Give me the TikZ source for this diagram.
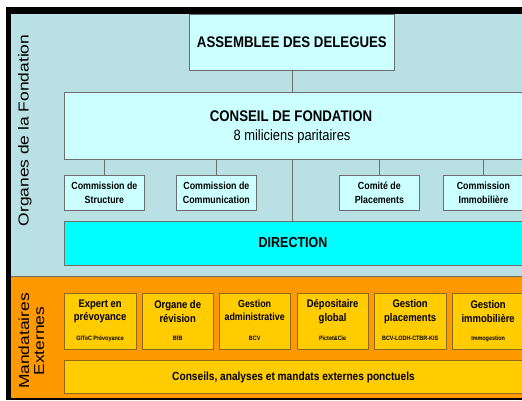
\documentclass[tikz,border=0pt]{standalone}
\usepackage{fontspec}
\setmainfont{Liberation Sans}
\newfontfamily\nrw[FakeStretch=0.86]{Liberation Sans}
\newfontfamily\wde[FakeStretch=1.2]{Liberation Sans}
\definecolor{bgblue}{HTML}{B9E0E3}
\definecolor{lcyan}{HTML}{CCFFFF}
\definecolor{dircyan}{HTML}{00FFFF}
\definecolor{orng}{HTML}{FF9900}
\definecolor{yel}{HTML}{FFCC00}
\definecolor{boxgray}{HTML}{6E6E6E}
\definecolor{ybrown}{HTML}{8B6B1A}
\begin{document}
\begin{tikzpicture}[x=1pt,y=-1pt,
  cbox/.style={draw=boxgray,fill=lcyan,line width=0.8pt,inner sep=0pt,anchor=north west},
  ybox/.style={draw=ybrown,fill=yel,line width=0.8pt,inner sep=0pt,anchor=north west},
  conn/.style={draw=boxgray,line width=0.8pt},
  bigtxt/.style={font=\nrw\bfseries\fontsize{15.4}{18}\selectfont},
  comtxt/.style={font=\nrw\bfseries\fontsize{10.3}{14.5}\selectfont,align=center},
  ttl/.style={font=\nrw\bfseries\fontsize{11}{13.3}\selectfont,align=center},
  sml/.style={font=\nrw\bfseries\fontsize{6.3}{7}\selectfont},
  side/.style={font=\wde\fontsize{14.5}{15}\selectfont,rotate=90,align=center}]
\useasboundingbox (0,0) rectangle (522,400);
\clip (0,0) rectangle (522,400);
% frame and zones
\fill[black] (6,7) rectangle (540,400);
\fill[bgblue] (11,14) rectangle (540,276.5);
\fill[orng] (11,277) rectangle (540,398);
\draw[boxgray,line width=0.8pt] (11,276.5) -- (540,276.5);
% side labels
\node[side] (org) at (25,130.5) {Organes de la Fondation};
\node[side] (mand) at (31.5,341) {Mandataires\\Externes};
% top boxes
\node[cbox,minimum width=205pt,minimum height=56pt,bigtxt] (ass) at (189,14) {ASSEMBLEE DES DELEGUES};
\node[cbox,minimum width=480pt,minimum height=67pt] (cf) at (63.5,92) {};
\node[bigtxt] (cft) at (291,116) {CONSEIL DE FONDATION};
\node[font=\nrw\fontsize{15}{18}\selectfont] (cfs) at (292,137) {8 miliciens paritaires};
\node[cbox,minimum width=80pt,minimum height=35pt,comtxt] (c1) at (64,175) {Commission de\\Structure};
\node[cbox,minimum width=80pt,minimum height=35pt,comtxt] (c2) at (176,175) {Commission de\\Communication};
\node[cbox,minimum width=80pt,minimum height=35pt,comtxt] (c3) at (339,175) {Comité de\\Placements};
\node[cbox,minimum width=80pt,minimum height=35pt,comtxt] (c4) at (443,175) {Commission\\Immobilière};
\node[cbox,fill=dircyan,minimum width=480pt,minimum height=44pt] (dir) at (64,221) {};
\node[font=\nrw\bfseries\fontsize{14.5}{18}\selectfont] (dirt) at (293,243) {DIRECTION};
% connectors
\draw[conn] (ass.south) -- (ass.south |- cf.north);
\draw[conn] (ass.south |- cf.south) -- (ass.south |- dir.north);
\draw[conn] (c1.north) -- (c1.north |- cf.south);
\draw[conn] (c2.north) -- (c2.north |- cf.south);
\draw[conn] (c3.north) -- (c3.north |- cf.south);
\draw[conn] (c4.north) -- (c4.north |- cf.south);
% external boxes
\node[ybox,minimum width=71.5pt,minimum height=56pt] (e1) at (64,293) {};
\node[ybox,minimum width=71.5pt,minimum height=56pt] (e2) at (141.5,293) {};
\node[ybox,minimum width=71.5pt,minimum height=56pt] (e3) at (218.5,293) {};
\node[ybox,minimum width=71.5pt,minimum height=56pt] (e4) at (296.5,293) {};
\node[ybox,minimum width=71.5pt,minimum height=56pt] (e5) at (374,293) {};
\node[ybox,minimum width=71.5pt,minimum height=56pt] (e6) at (452,293) {};
\node[ttl] (e1t) at (e1.center |- 0,311.5) {Expert en\\prévoyance};
\node[ttl] (e2t) at (e2.center |- 0,311.5) {Organe de\\révision};
\node[ttl,font=\nrw\bfseries\fontsize{10.3}{12.7}\selectfont] (e3t) at (e3.center |- 0,310.5) {Gestion\\administrative};
\node[ttl] (e4t) at (e4.center |- 0,311.5) {Dépositaire\\global};
\node[ttl] (e5t) at (e5.center |- 0,311.5) {Gestion\\placements};
\node[ttl] (e6t) at (e6.center |- 0,311.5) {Gestion\\immobilière};
\node[sml] (e1s) at (e1.center |- 0,338.5) {GITeC Prévoyance};
\node[sml] (e2s) at (e2.center |- 0,338.5) {BfB};
\node[sml] (e3s) at (e3.center |- 0,338.5) {BCV};
\node[sml] (e4s) at (e4.center |- 0,338.5) {Pictet\&Cie};
\node[sml] (e5s) at (e5.center |- 0,338.5) {BCV-LODH-CTBR-KIS};
\node[sml] (e6s) at (e6.center |- 0,338.5) {Immogestion};
\node[ybox,minimum width=480pt,minimum height=33pt] (cons) at (64,360) {};
\node[font=\nrw\bfseries\fontsize{11.8}{14}\selectfont] (const) at (293.5,377) {Conseils, analyses et mandats externes ponctuels};
\end{tikzpicture}
\end{document}
